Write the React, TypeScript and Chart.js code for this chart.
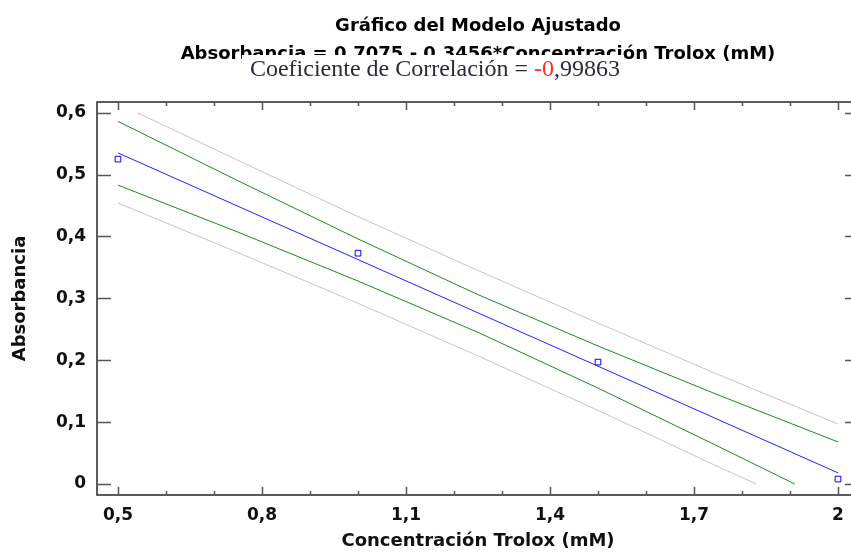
import React, { useEffect, useRef } from 'react';
import { Chart, registerables } from 'chart.js';

Chart.register(...registerables);

// ---- data ----
const xTickValues = [0.5, 0.8, 1.1, 1.4, 1.7, 2.0];
const xMinorTickValues = [0.5, 0.6, 0.7, 0.8, 0.9, 1.0, 1.1, 1.2, 1.3, 1.4, 1.5, 1.6, 1.7, 1.8, 1.9, 2.0];
const yTickValues = [0, 0.1, 0.2, 0.3, 0.4, 0.5, 0.6];

const obsX = [0.5, 1.0, 1.5, 2.0];
const obsY = [0.525, 0.373, 0.197, 0.008];

const fitX = [0.5, 2.0];
const fitY = [0.535, 0.018];

const confUpperX = [0.5, 0.75, 1.0, 1.25, 1.5, 1.75, 2.0];
const confUpperY = [0.586, 0.49, 0.396, 0.306, 0.223, 0.144, 0.068];
const confLowerX = [0.5, 0.75, 1.0, 1.25, 1.5, 1.75, 1.91];
const confLowerY = [0.483, 0.407, 0.328, 0.245, 0.155, 0.061, 0.0];

const predUpperX = [0.54, 0.75, 1.0, 1.25, 1.5, 1.75, 2.0];
const predUpperY = [0.6, 0.523, 0.432, 0.345, 0.26, 0.177, 0.097];
const predLowerX = [0.5, 0.75, 1.0, 1.25, 1.5, 1.75, 1.83];
const predLowerY = [0.454, 0.374, 0.292, 0.207, 0.119, 0.028, 0.0];

const titleLine1 = 'Gráfico del Modelo Ajustado';
const titleLine2 = 'Absorbancia = 0,7075 - 0,3456*Concentración Trolox (mM)';
const corrLabel = 'Coeficiente de Correlación = ';
const corrSign = '-0';
const corrRest = ',99863';
const xTitle = 'Concentración Trolox (mM)';
const yTitle = 'Absorbancia';

const pts = (xs: number[], ys: number[]) => xs.map((x, i) => ({ x, y: ys[i] }));
const fmt = (v: number) => String(v).replace('.', ',');
const SANS = '"DejaVu Sans", sans-serif';

const decorPlugin = {
  id: 'decor',
  afterDraw(chart: any) {
    const { ctx, chartArea } = chart;
    const { left, right, top, bottom } = chartArea;
    const xs = chart.scales.x;
    const ys = chart.scales.y;
    ctx.save();
    // box
    ctx.strokeStyle = '#333';
    ctx.lineWidth = 1.6;
    ctx.strokeRect(left, top, right - left, bottom - top);
    // ticks (drawn inward)
    ctx.strokeStyle = '#555';
    ctx.lineWidth = 1.5;
    ctx.beginPath();
    for (const v of xMinorTickValues) {
      const px = Math.round(xs.getPixelForValue(v)) + 0.5;
      const major = xTickValues.some((t) => Math.abs(t - v) < 1e-9);
      const len = major ? 8 : 4;
      ctx.moveTo(px, bottom);
      ctx.lineTo(px, bottom - len);
      ctx.moveTo(px, top);
      ctx.lineTo(px, top + len);
    }
    for (const v of yTickValues) {
      const py = Math.round(ys.getPixelForValue(v)) + 0.5;
      ctx.moveTo(left, py);
      ctx.lineTo(left + 14, py);
      ctx.moveTo(right, py);
      ctx.lineTo(right - 14, py);
    }
    ctx.stroke();

    // titles
    ctx.fillStyle = '#000';
    ctx.textAlign = 'center';
    ctx.textBaseline = 'alphabetic';
    ctx.font = `bold 18px ${SANS}`;
    ctx.fillText(titleLine1, 478, 31);
    ctx.fillText(titleLine2, 478, 58.5);

    ctx.font = '24px "Liberation Serif", serif';
    const w1 = ctx.measureText(corrLabel).width;
    const w2 = ctx.measureText(corrSign).width;
    const w3 = ctx.measureText(corrRest).width;
    const total = w1 + w2 + w3;
    const x0 = 435 - total / 2;
    ctx.fillStyle = '#fff';
    ctx.fillRect(x0 - 8, 55, total + 12, 28);
    ctx.textAlign = 'left';
    ctx.fillStyle = '#2a2a3a';
    ctx.fillText(corrLabel, x0, 76);
    ctx.fillStyle = '#ff2a2a';
    ctx.fillText(corrSign, x0 + w1, 76);
    ctx.fillStyle = '#2a2a3a';
    ctx.fillText(corrRest, x0 + w1 + w2, 76);
    ctx.restore();
  },
};

export default function App() {
  const ref = useRef<HTMLCanvasElement | null>(null);
  useEffect(() => {
    if (!ref.current) return;
    const lineDs = (label: string, data: any[], color: string) => ({
      label,
      data,
      showLine: true,
      borderColor: color,
      backgroundColor: color,
      borderWidth: 1,
      pointRadius: 0,
      tension: 0,
    });
    const chart = new Chart(ref.current, {
      type: 'scatter',
      data: {
        datasets: [
          lineDs('pred upper', pts(predUpperX, predUpperY), '#c4c4c4'),
          lineDs('pred lower', pts(predLowerX, predLowerY), '#c4c4c4'),
          lineDs('conf upper', pts(confUpperX, confUpperY), '#1a8a1a'),
          lineDs('conf lower', pts(confLowerX, confLowerY), '#1a8a1a'),
          lineDs('fit', pts(fitX, fitY), '#2020ff'),
          {
            label: 'obs',
            data: pts(obsX, obsY),
            showLine: false,
            pointStyle: 'rect',
            pointRadius: 4,
            borderWidth: 1,
            borderColor: '#0000ff',
            backgroundColor: 'rgba(0,0,0,0)',
          },
        ],
      },
      options: {
        responsive: false,
        animation: false,
        devicePixelRatio: 1,
        events: [],
        layout: { autoPadding: false, padding: { top: 102, right: 1, left: 0, bottom: 0 } },
        plugins: { legend: { display: false }, tooltip: { enabled: false }, title: { display: false } },
        scales: {
          x: {
            type: 'linear',
            min: 0.45625,
            max: 2.04375,
            grid: { display: false, drawTicks: false },
            border: { display: false },
            afterBuildTicks: (s: any) => {
              s.ticks = xTickValues.map((v) => ({ value: v }));
            },
            afterFit: (s: any) => {
              s.height = 57;
              s.paddingLeft = 0;
              s.paddingRight = 0;
            },
            ticks: {
              autoSkip: false,
              maxRotation: 0,
              padding: 10,
              color: '#111',
              font: { family: SANS, size: 17, weight: 'bold' },
              callback: (v: any) => fmt(Number(v)),
            },
            title: {
              display: true,
              text: xTitle,
              color: '#111',
              font: { family: SANS, size: 18, weight: 'bold', lineHeight: 1.2 },
              padding: { top: 0, bottom: 0 },
            },
          },
          y: {
            type: 'linear',
            min: -0.01777,
            max: 0.6173,
            grid: { display: false, drawTicks: false },
            border: { display: false },
            afterBuildTicks: (s: any) => {
              s.ticks = yTickValues.map((v) => ({ value: v }));
            },
            afterFit: (s: any) => {
              s.width = 97;
              s.paddingTop = 0;
              s.paddingBottom = 0;
            },
            ticks: {
              autoSkip: false,
              padding: 11,
              color: '#111',
              font: { family: SANS, size: 17, weight: 'bold' },
              callback: (v: any) => fmt(Number(v)),
            },
            title: {
              display: true,
              text: yTitle,
              color: '#111',
              font: { family: SANS, size: 18, weight: 'bold', lineHeight: 1.2 },
              padding: { top: 10, bottom: 0 },
            },
          },
        },
      },
      plugins: [decorPlugin],
    } as any);
    return () => chart.destroy();
  }, []);
  return (
    <div
      style={{
        position: 'absolute',
        left: 0,
        top: 0,
        width: 851,
        height: 552,
        overflow: 'hidden',
        background: '#fff',
      }}
    >
      <canvas ref={ref} width={860} height={552} style={{ display: 'block' }} />
    </div>
  );
}
